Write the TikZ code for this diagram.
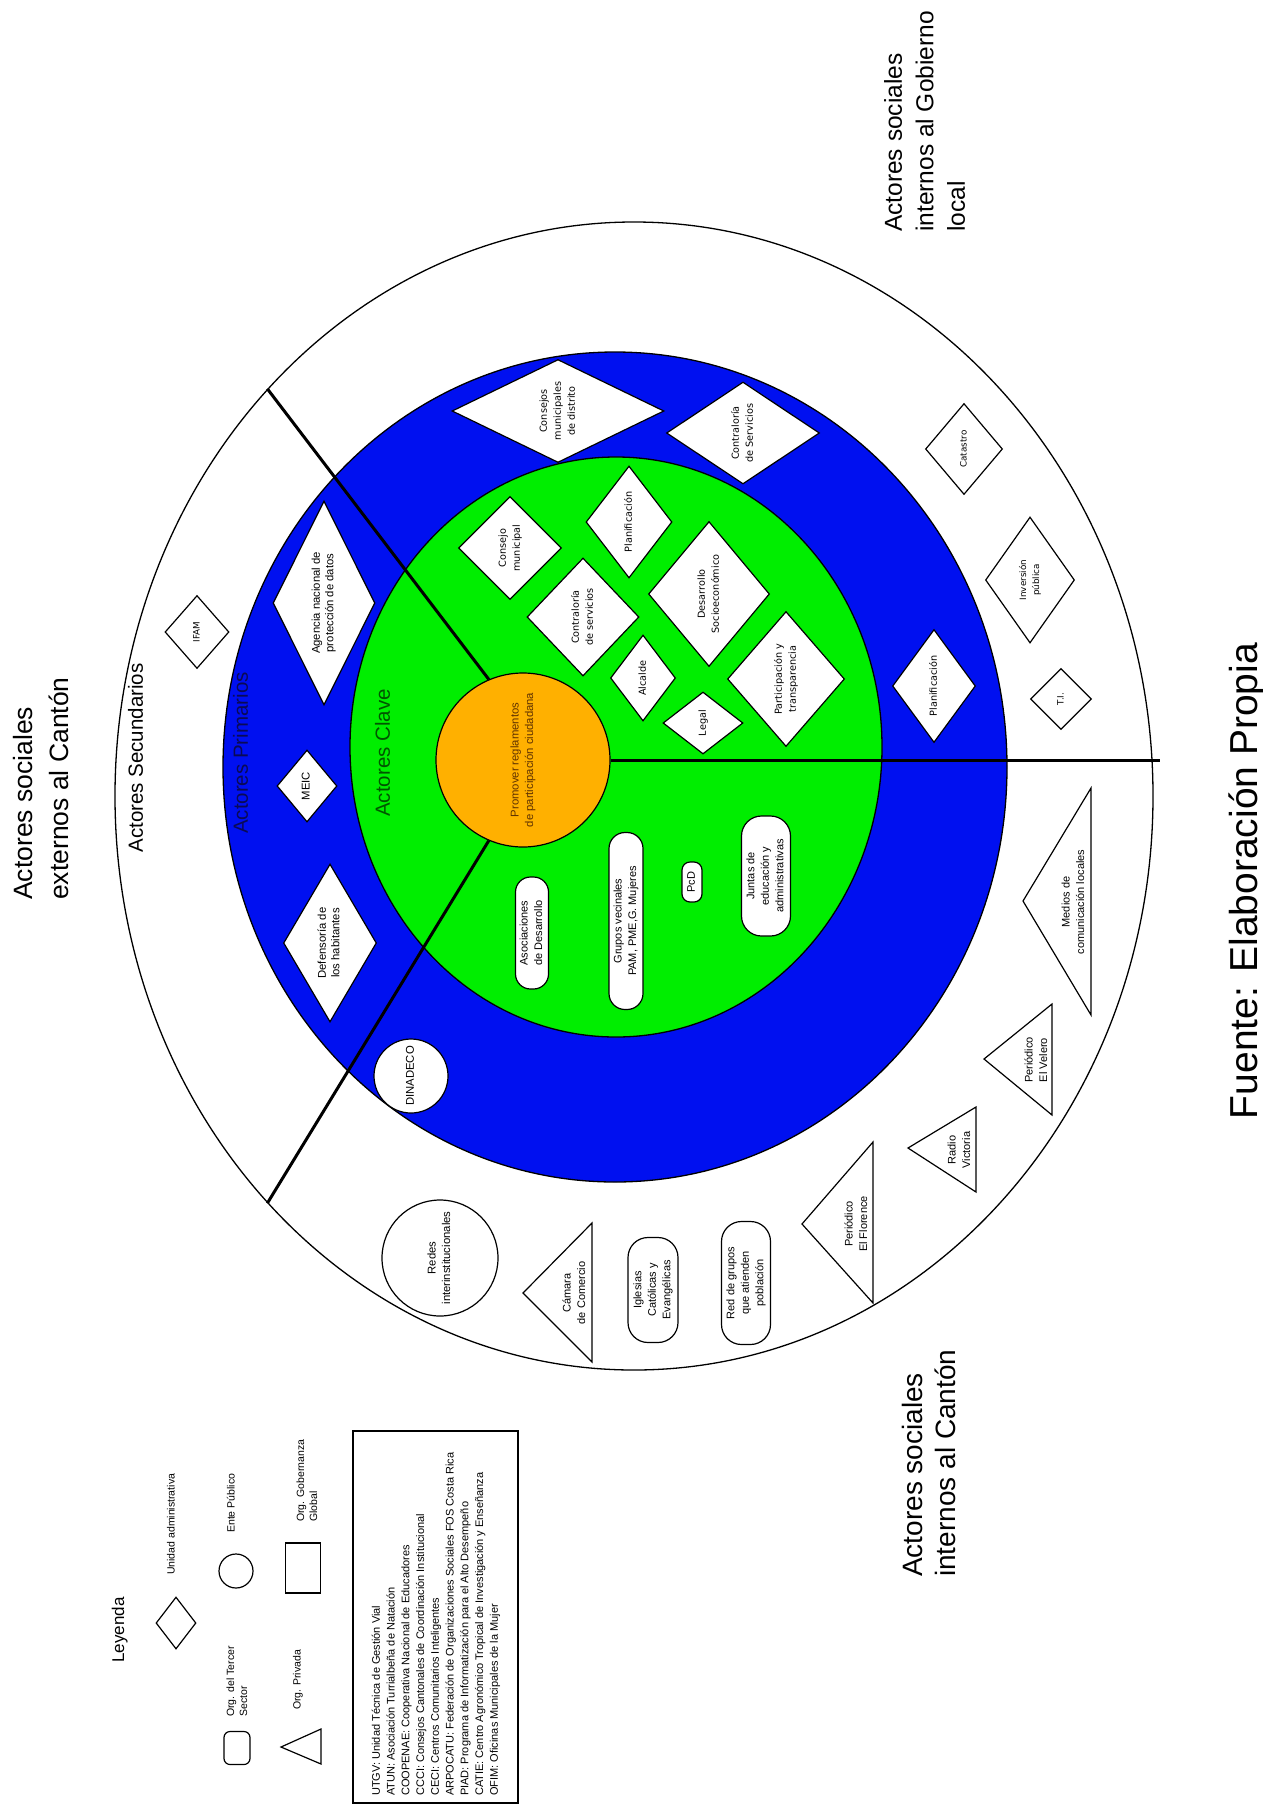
\documentclass[tikz,border=0pt]{standalone}
\usepackage{fontspec}
\usepackage{graphicx}
\setmainfont{Liberation Sans}
\newfontfamily\dejavu{DejaVu Sans}
\usetikzlibrary{shapes.geometric}
\definecolor{ink}{RGB}{0,0,0}
\definecolor{ringblue}{RGB}{0,16,240}
\definecolor{keygreen}{RGB}{0,238,0}
\definecolor{goalfill}{RGB}{255,176,0}
\definecolor{goaltext}{RGB}{95,50,0}
\definecolor{primtext}{RGB}{10,10,85}
\definecolor{clavetext}{RGB}{0,85,0}
\newcommand{\uptext}[1]{\rotatebox{90}{\begin{tabular}{@{}c@{}}#1\end{tabular}}}
\newcommand{\upleft}[1]{\rotatebox{90}{\begin{tabular}{@{}l@{}}#1\end{tabular}}}

\begin{document}
\begin{tikzpicture}[
  x=1pt, y=-1pt,
  ring/.style={ellipse, draw=ink, line width=1.3pt, inner sep=0pt},
  divider/.style={draw=ink, line width=3pt},
  adm/.style={diamond, draw=ink, fill=white, line width=1.2pt, inner sep=0pt, font=\dejavu\fontsize{9.7}{14}\selectfont},
  admsm/.style={adm, font=\dejavu\fontsize{8.8}{13}\selectfont},
  admar/.style={adm, font=\fontsize{11.3}{13.5}\selectfont},
  tercer/.style={rectangle, draw=ink, fill=white, line width=1.2pt, inner sep=0pt, font=\fontsize{11}{14.5}\selectfont},
  ente/.style={circle, draw=ink, fill=white, line width=1.2pt, inner sep=0pt, font=\fontsize{11.3}{14.5}\selectfont},
  privada/.style={draw=ink, fill=white, line width=1.2pt, line join=miter},
  privtext/.style={inner sep=0pt, font=\fontsize{11}{14.5}\selectfont},
  band/.style={inner sep=0pt, font=\fontsize{20.5}{24}\selectfont},
  zone/.style={inner sep=0pt, anchor=south},
  legtext/.style={inner sep=0pt, anchor=south, font=\fontsize{10.5}{13}\selectfont},
]
\useasboundingbox (0,0) rectangle (1263,1805);
\fill[white] (0,0) rectangle (1263,1805);

% ---------------------------------------------------------------- rings
\node[ring, fill=white, minimum width=1038, minimum height=1148] (outer) at (634,796) {};
\node[ring, fill=ringblue, minimum width=784, minimum height=830] (primary) at (615,767) {};
\node[ring, fill=keygreen, minimum width=532, minimum height=580] (key) at (616,747) {};

\node[ente, fill=goalfill, text=goaltext, minimum size=174] (goal) at (523,760)
  {\uptext{Promover reglamentos\\de participación ciudadana}};

% ---------------------------------------------------------------- ring labels
\node[band] (lsec) at (138,758) {\uptext{Actores Secundarios}};
\node[band, text=primtext] (lprim) at (243,753) {\uptext{Actores Primarios}};
\node[band, text=clavetext] (lclave) at (385,753) {\uptext{Actores Clave}};

% ---------------------------------------------------------------- actores clave
\node[adm, minimum width=103, minimum height=103, aspect=1] (gcons) at (510,548) {\uptext{Consejo\\municipal}};
\node[adm, minimum width=86, minimum height=112, aspect=0.77] (gplan) at (629,522) {\uptext{Planificación}};
\node[adm, minimum width=112, minimum height=118, aspect=0.95] (gcontra) at (583,617) {\uptext{Contraloría\\de servicios}};
\node[adm, minimum width=121, minimum height=145, aspect=0.83] (gdes) at (709,594) {\uptext{Desarrollo\\Socioeconómico}};
\node[adm, minimum width=65, minimum height=86, aspect=0.76] (galc) at (643,678) {\uptext{Alcalde}};
\node[adm, minimum width=80, minimum height=62, aspect=1.29] (glegal) at (703,723) {\uptext{Legal}};
\node[adm, minimum width=117, minimum height=135, aspect=0.87] (gpart) at (786,679) {\uptext{Participación y\\transparencia}};

\node[tercer, minimum width=33, minimum height=112, rounded corners=15] (rasoc) at (532,933) {\uptext{Asociaciones\\de Desarrollo}};
\node[tercer, minimum width=34, minimum height=177, rounded corners=16] (rgrup) at (626,921) {\uptext{Grupos vecinales\\PAM, PME,G. Mujeres}};
\node[tercer, minimum width=20, minimum height=40, rounded corners=8] (rpcd) at (692,882) {\uptext{PcD}};
\node[tercer, minimum width=49, minimum height=120, rounded corners=20] (rjunt) at (766,876) {\uptext{Juntas de\\educación y\\administrativas}};

% ---------------------------------------------------------------- actores primarios
\node[adm, minimum width=212, minimum height=103, aspect=2.06] (bcdist) at (558,411) {\uptext{Consejos\\municipales\\de distrito}};
\node[adm, minimum width=153, minimum height=102, aspect=1.5] (bcserv) at (743,433) {\uptext{Contraloría\\de Servicios}};
\node[adm, minimum width=83, minimum height=113, aspect=0.73] (bplan) at (934,686) {\uptext{Planificación}};
\node[admar, minimum width=102, minimum height=204, aspect=0.5] (bagen) at (324,603) {\uptext{Agencia nacional de\\protección de datos}};
\node[admar, minimum width=60, minimum height=72, aspect=0.83] (bmeic) at (307,786) {\uptext{MEIC}};
\node[admar, minimum width=93, minimum height=158, aspect=0.59] (bdef) at (330,943) {\uptext{Defensoría de\\los habitantes}};
\node[ente, minimum size=74] (cdina) at (411,1076) {\uptext{DINADECO}};

% ---------------------------------------------------------------- actores secundarios
\node[admsm, minimum width=64, minimum height=73, aspect=0.88] (wifam) at (197,632) {\uptext{IFAM}};
\node[admsm, minimum width=77, minimum height=91, aspect=0.85] (wcat) at (964,449) {\uptext{Catastro}};
\node[admsm, minimum width=89, minimum height=126, aspect=0.71] (winv) at (1030,580) {\uptext{Inversión\\pública}};
\node[admsm, minimum width=61, minimum height=61, aspect=1] (wti) at (1061,699) {\uptext{T.I.}};

\draw[privada] (1023,901) -- (1091,788) -- (1091,1015) -- cycle;
\node[privtext] (tmedios) at (1074,902) {\uptext{Medios de\\comunicación locales}};
\draw[privada] (984,1059) -- (1052,1004) -- (1052,1115) -- cycle;
\node[privtext] (tvelero) at (1037,1060) {\uptext{Periódico\\El Velero}};
\draw[privada] (908,1148) -- (976,1107) -- (976,1192) -- cycle;
\node[privtext] (tradio) at (960,1150) {\uptext{Radio\\Victoria}};
\draw[privada] (802,1224) -- (873,1142) -- (873,1303) -- cycle;
\node[privtext] (tflor) at (857,1224) {\uptext{Periódico\\El Florence}};
\draw[privada] (523,1293) -- (592,1223) -- (592,1362) -- cycle;
\node[privtext] (tcamara) at (575,1293) {\uptext{Cámara\\de Comercio}};

\node[ente, minimum size=116] (credes) at (440,1258) {\uptext{Redes\\interinstitucionales}};
\node[tercer, minimum width=50, minimum height=105, rounded corners=20] (rigle) at (653,1290) {\uptext{Iglesias\\Católicas y\\Evangélicas}};
\node[tercer, minimum width=49, minimum height=123, rounded corners=20] (rred) at (746,1283) {\uptext{Red de grupos\\que atienden\\población}};

% ---------------------------------------------------------------- dividers
\coordinate (eastend) at (1160,760);
\draw[divider] (goal.east) -- (eastend);
\draw[divider] (goal.113) -- (outer.132);
\draw[divider] (goal.247) -- (outer.228);

% ---------------------------------------------------------------- zone titles
\node[zone, font=\fontsize{26.5}{36}\selectfont] (zext) at (43,900) {\upleft{Actores sociales\\externos al Cantón}};
\node[zone, font=\fontsize{24.5}{31.5}\selectfont] (zgob) at (927,232) {\upleft{Actores sociales\\internos al Gobierno\\local}};
\node[zone, font=\fontsize{28}{33}\selectfont] (zcan) at (932,1577) {\upleft{Actores sociales\\internos al Cantón}};
\node[inner sep=0pt, font=\fontsize{39}{47}\selectfont] (fuente) at (1248,881) {\uptext{Fuente: Elaboración Propia}};

% ---------------------------------------------------------------- legend
\node[inner sep=0pt, font=\fontsize{17}{20}\selectfont] (leyenda) at (120,1630) {\uptext{Leyenda}};
\node[adm, minimum width=40, minimum height=52] (kdia) at (176,1623) {};
\node[legtext] (kdiat) at (172,1575) {\upleft{Unidad administrativa}};
\node[ente, minimum size=34] (kcirc) at (236,1571) {};
\node[legtext] (kcirct) at (232,1533) {\upleft{Ente Público}};
\node[draw=ink, line width=1.2pt, minimum width=35, minimum height=50, inner sep=0pt] (krect) at (303,1568) {};
\node[legtext] (krectt) at (308,1522) {\upleft{Org. Gobernanza\\Global}};
\node[tercer, minimum width=26, minimum height=33, rounded corners=6] (kcaps) at (237,1748) {};
\node[legtext] (kcapst) at (238,1717) {\upleft{Org. del Tercer\\Sector}};
\draw[privada] (281,1747) -- (321,1729) -- (321,1764) -- cycle;
\node[legtext] (ktrit) at (298,1710) {\upleft{Org. Privada}};

\node[draw=ink, line width=1.4pt, minimum width=165, minimum height=372, inner sep=0pt] (abbr) at (435.5,1617) {};
\node[inner sep=0pt, anchor=south, font=\fontsize{11}{14.75}\selectfont] (abbrtext) at (436,1796)
  {\upleft{UTGV: Unidad Técnica de Gestión Vial\\
   ATUN: Asociación Turrialbeña de Natación\\
   COOPENAE: Cooperativa Nacional de Educadores\\
   CCCI: Consejos Cantonales de Coordinación Institucional\\
   CECI: Centros Comunitarios Inteligentes\\
   ARPOCATU: Federación de Organizaciones Sociales FOS Costa Rica\\
   PIAD: Programa de Informatización para el Alto Desempeño\\
   CATIE: Centro Agronómico Tropical de Investigación y Enseñanza\\
   OFIM: Oficinas Municipales de la Mujer}};
\end{tikzpicture}
\end{document}
